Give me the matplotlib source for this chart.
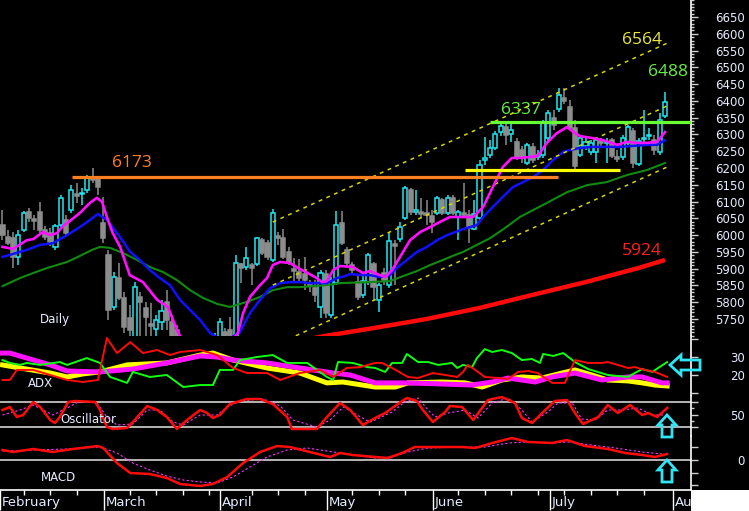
import numpy as np
import matplotlib
matplotlib.use("Agg")
import matplotlib.pyplot as plt
from matplotlib.patches import Polygon, Rectangle

W, H = 749, 511

# ============================================
# 1. DAILY CANDLES
# ============================================
opens = [6030, 5994, 5991, 5935, 6015, 6069, 6048, 6069, 6015, 6006,
         5965, 6030, 6045, 6075, 6123, 6123, 6135, 6173, 6167, 6036,
         5941, 5786, 5872, 5813, 5753, 5687, 5816, 5783, 5735, 5720,
         5741, 5801, 5741, 5717, 5673, 5634, 5652, 5613, 5592, 5628,
         5613, 5673, 5711, 5717, 5687, 5914, 5905, 5911, 5914, 5985,
         5976, 5926, 5997, 5991, 5950, 5899, 5890, 5884, 5857, 5842,
         5786, 5884, 5762, 5857, 6036, 5956, 5911, 5860, 5822, 5860,
         5914, 5807, 5887, 5851, 5973, 5988, 6051, 6135, 6069, 6069,
         6066, 6057, 6066, 6105, 6066, 6111, 6054, 6066, 6060, 6018,
         6051, 6224, 6239, 6260, 6307, 6322, 6301, 6278, 6254, 6215,
         6263, 6233, 6239, 6290, 6349, 6376, 6409, 6382, 6319, 6239,
         6266, 6248, 6248, 6281, 6275, 6284, 6233, 6233, 6275, 6310,
         6212, 6287, 6295, 6284, 6248, 6355]
highs = [6075, 6015, 6009, 6015, 6072, 6081, 6060, 6099, 6027, 6021,
         6033, 6120, 6060, 6149, 6155, 6141, 6179, 6200, 6176, 6114,
         5956, 5890, 5917, 5831, 5792, 5860, 5831, 5801, 5798, 5762,
         5807, 5836, 5762, 5732, 5693, 5673, 5673, 5634, 5643, 5652,
         5708, 5753, 5723, 5756, 5941, 5917, 5965, 5917, 5994, 5991,
         5985, 6078, 6009, 6018, 5965, 5932, 5929, 5935, 5866, 5866,
         5896, 5896, 5875, 6072, 6072, 5965, 5920, 5881, 5881, 5947,
         5920, 5857, 5902, 6009, 5985, 6039, 6146, 6141, 6135, 6111,
         6105, 6075, 6117, 6111, 6120, 6120, 6075, 6155, 6075, 6105,
         6224, 6292, 6283, 6310, 6337, 6331, 6331, 6290, 6266, 6275,
         6275, 6254, 6343, 6373, 6373, 6439, 6439, 6403, 6343, 6298,
         6290, 6283, 6290, 6290, 6290, 6290, 6254, 6298, 6328, 6319,
         6290, 6373, 6319, 6298, 6364, 6427]
lows = [5985, 5971, 5902, 5911, 6009, 6039, 6015, 6006, 5985, 5968,
        5956, 6021, 6000, 6066, 6096, 6090, 6126, 6155, 6120, 5976,
        5747, 5777, 5807, 5708, 5673, 5673, 5695, 5695, 5695, 5695,
        5717, 5717, 5658, 5643, 5613, 5622, 5583, 5568, 5574, 5592,
        5598, 5658, 5673, 5673, 5673, 5857, 5896, 5851, 5908, 5941,
        5926, 5920, 5971, 5929, 5911, 5860, 5860, 5836, 5831, 5801,
        5753, 5753, 5753, 5851, 5971, 5908, 5887, 5807, 5813, 5851,
        5807, 5771, 5851, 5842, 5851, 5979, 6045, 6060, 6060, 6051,
        6030, 6006, 6060, 6060, 6060, 6060, 5985, 6054, 5976, 6015,
        6039, 6209, 6230, 6254, 6295, 6269, 6278, 6224, 6215, 6209,
        6215, 6224, 6230, 6278, 6313, 6367, 6391, 6313, 6188, 6233,
        6254, 6239, 6215, 6260, 6215, 6230, 6218, 6224, 6269, 6200,
        6206, 6278, 6284, 6239, 6239, 6349]
closes = [6000, 5976, 5935, 6000, 6066, 6051, 6042, 6015, 5994, 5979,
          6027, 6111, 6006, 6135, 6117, 6126, 6173, 6164, 6144, 5991,
          5777, 5875, 5813, 5726, 5717, 5845, 5801, 5756, 5729, 5747,
          5774, 5747, 5673, 5658, 5628, 5658, 5598, 5583, 5628, 5604,
          5687, 5741, 5687, 5693, 5917, 5902, 5932, 5902, 5991, 5947,
          5935, 6066, 5991, 5935, 5920, 5893, 5872, 5866, 5848, 5822,
          5887, 5768, 5866, 6030, 5976, 5917, 5896, 5816, 5863, 5941,
          5845, 5851, 5866, 5982, 5968, 6024, 6141, 6069, 6075, 6063,
          6060, 6039, 6111, 6066, 6111, 6066, 6069, 6060, 6021, 6063,
          6209, 6230, 6260, 6301, 6325, 6298, 6313, 6233, 6230, 6269,
          6224, 6239, 6334, 6364, 6328, 6418, 6400, 6319, 6206, 6290,
          6278, 6275, 6284, 6275, 6278, 6236, 6227, 6290, 6322, 6215,
          6281, 6290, 6298, 6254, 6343, 6397]

# moving averages (bar, price)
ma_magenta = [(0, 5965), (2, 5959), (4.6, 5985), (5.8, 5988), (7.6, 6009), (9, 6000), (10.3, 6006),
              (11.4, 6027), (12.7, 6042), (14.6, 6066), (16.5, 6096), (17.8, 6111), (18.8, 6099),
              (19.7, 6054), (20.8, 6006), (22.2, 5965), (24, 5881), (26.5, 5860), (29.2, 5807),
              (31.2, 5786), (33.1, 5711), (35, 5660), (37, 5630), (39, 5620), (41, 5640), (43, 5680),
              (44.4, 5708), (45.4, 5768), (46.7, 5816), (48.6, 5851), (49.9, 5872), (51, 5911),
              (52.4, 5920), (54.2, 5917), (55.8, 5902), (57.6, 5887), (59.3, 5872), (60.3, 5860),
              (61.2, 5863), (62.4, 5896), (63.7, 5908), (66.1, 5905), (68, 5887), (69.3, 5893),
              (70.7, 5884), (72.2, 5875), (73.5, 5896), (75, 5935), (76.9, 5985), (78.8, 6009),
              (80.7, 6024), (82.5, 6039), (84.4, 6054), (86.3, 6054), (88.8, 6054), (90.7, 6084),
              (92.5, 6143), (94.4, 6203), (96.1, 6230), (97.6, 6230), (99.5, 6233), (101, 6236),
              (102.7, 6275), (104.6, 6304), (106.5, 6322), (108, 6304), (109, 6295), (111.4, 6289),
              (113.3, 6283), (116, 6269), (117.8, 6278), (119.7, 6275), (121.6, 6275), (123.5, 6278),
              (125, 6307)]
ma_blue = [(0, 5935), (2, 5944), (4.6, 5956), (7.1, 5971), (9.5, 5976), (12.2, 6000), (14.6, 6024),
           (16.5, 6045), (18, 6063), (19.7, 6045), (21.2, 6015), (22.2, 5994), (24.1, 5950),
           (25.9, 5926), (27.8, 5896), (29.7, 5872), (31.6, 5851), (33.5, 5807), (35.4, 5777),
           (37.3, 5747), (39.2, 5708), (41, 5690), (42.5, 5688), (44.8, 5711), (46.7, 5768),
           (48.6, 5807), (50.5, 5842), (52.4, 5857), (54.2, 5860), (56.1, 5860), (58, 5857),
           (59.9, 5857), (61.2, 5857), (63.1, 5872), (64.6, 5878), (65.6, 5884), (67.5, 5881),
           (69.3, 5881), (71.2, 5875), (73.1, 5881), (74.4, 5902), (76.3, 5926), (78.2, 5950),
           (80.1, 5965), (82, 5985), (83.9, 6000), (85.4, 6009), (86.9, 6018), (89.5, 6030),
           (90.7, 6054), (92.5, 6084), (94.4, 6114), (96.3, 6143), (98.2, 6158), (100.1, 6173),
           (102, 6194), (103.9, 6224), (105.8, 6248), (107.1, 6254), (109, 6260), (111.4, 6263),
           (114, 6263), (116.5, 6263), (119, 6266), (121.6, 6269), (123.5, 6269), (125, 6283)]
ma_green = [(0, 5848), (3.3, 5872), (5.8, 5887), (8.4, 5902), (12.2, 5920), (14.6, 5938), (16.9, 5956),
            (18.4, 5965), (20.3, 5962), (22.7, 5947), (25.4, 5926), (27.8, 5905), (30.3, 5890),
            (32.9, 5866), (35.4, 5836), (37.8, 5813), (40.5, 5795), (42.9, 5786), (46.1, 5801),
            (48.6, 5816), (51, 5836), (53.7, 5845), (56.1, 5845), (58.6, 5848), (61.2, 5851),
            (63.7, 5857), (69.3, 5860), (73.1, 5863), (75.6, 5878), (78.2, 5893), (80.7, 5911),
            (83.1, 5926), (85.4, 5941), (86.9, 5950), (92, 5991), (94.8, 6021), (97.6, 6054),
            (102.7, 6096), (106.5, 6128), (110.3, 6149), (114, 6158), (117.8, 6179), (121.6, 6194),
            (125, 6215)]
ma_red = [(56, 5685), (61, 5700), (70, 5723), (80, 5750), (90, 5783), (100, 5822), (110, 5860),
          (120, 5902), (125, 5926)]

# horizontal levels (price, first bar, last bar)
level_orange = (6173, 13.1, 104.8)
level_yellow = (6194, 87.3, 116.5)
level_green = (6337, 92, 129.9)

# trend channel (bar, price) end points
chan_upper = [(51, 6039), (125.4, 6572)]
chan_mid = [(51, 5851), (125.4, 6385)]
chan_lower = [(51, 5669), (125.4, 6203)]

# ============================================
# 2. INDICATORS (bar, value)
# ============================================
adx_magenta = [(0, 32.2), (1.4, 32.2), (4.6, 29.4), (9, 25.6), (12.2, 22.2), (18.4, 21.7), (24.6, 23.3),
               (31, 26.7), (37.3, 30.6), (40.5, 30), (43.5, 28.3), (49.9, 26.7), (56.1, 23.9),
               (62.4, 21.1), (65.6, 20), (70.3, 15.6), (76.5, 15.6), (82.9, 15), (88.6, 14.4),
               (92.4, 16.1), (95.4, 18.3), (100.5, 16.1), (103.7, 18.9), (108, 21.1), (113.1, 17.2),
               (118, 18.9), (120.7, 18.9), (124.4, 15.6), (125.4, 15.6)]
adx_yellow = [(0, 25.6), (3.3, 23.9), (9, 21.1), (12.2, 18.9), (15.2, 20.6), (18.4, 21.7), (23.5, 25.6),
              (31, 26.7), (37.3, 31.1), (39.7, 32.2), (43.5, 28.3), (49.9, 23.9), (56.1, 21.1),
              (61.2, 15.6), (64.2, 16.1), (70.3, 13.3), (74.1, 13.3), (76.5, 15.6), (82.9, 16.1),
              (87.3, 15.6), (90.5, 13.3), (94.2, 17.2), (98, 18.9), (101.8, 18.3), (105.6, 21.1),
              (108, 22.8), (111.2, 20), (114.2, 17.2), (118, 16.7), (120.7, 15.6), (123.1, 14.4),
              (125.4, 13.9)]
plus_di = [(0, 28.3), (1.4, 26.7), (3.3, 25.6), (4.6, 26.7), (7.1, 25.6), (10.8, 27.2), (12.2, 25.6),
           (15.9, 29.4), (18.4, 26.7), (20.3, 18.9), (23.5, 15.6), (24.6, 21.7), (27.8, 18.9), (31, 20),
           (34.1, 13.3), (37.3, 14.4), (39.7, 14.4), (41, 22.8), (43.5, 22.8), (44.8, 28.3), (48, 30),
           (51, 31.1), (53.7, 26.7), (57.5, 26.7), (61.2, 18.9), (62.4, 17.2), (63.3, 27.2),
           (66.1, 26.7), (68.8, 24.4), (70.3, 23.9), (72.2, 21.7), (73.5, 26.7), (75.4, 26.7),
           (76.3, 31.7), (78.4, 27.2), (80.3, 27.2), (82.2, 25.6), (84.8, 26.7), (85.8, 23.9),
           (86.9, 25.6), (88.6, 24.4), (89.5, 29.4), (91, 34.4), (92.4, 32.8), (94.2, 33.9),
           (96.1, 32.2), (98, 28.3), (99.9, 28.9), (101.4, 26.7), (102, 31.7), (103.9, 30.6),
           (105.8, 32.2), (108, 27.2), (110.5, 23.3), (114.2, 20), (118, 18.9), (119.3, 21.1),
           (120.7, 23.3), (122.6, 21.7), (123.7, 23.9), (125.4, 27.2)]
minus_di = [(0, 17.2), (1.4, 17.2), (2.7, 22.8), (5.8, 22.8), (9, 20), (12.2, 17.2), (15.2, 16.1),
            (18, 17.2), (19.7, 40.6), (21.6, 32.2), (24.1, 38.3), (26.5, 32.2), (29.2, 33.9),
            (31.6, 31.1), (33.5, 32.8), (37.3, 33.9), (40.5, 31.1), (43.5, 23.9), (46.1, 21.1),
            (49.9, 21.1), (52.4, 17.2), (56.1, 21.1), (59.9, 22.8), (62.4, 18.9), (65, 23.9),
            (67.5, 24.4), (70.3, 26.7), (71.6, 26.7), (73.5, 23.9), (76.5, 18.9), (78.4, 18.3),
            (81.2, 21.1), (83.5, 20), (85.8, 18.9), (86.9, 21.7), (87.8, 25.6), (89.2, 22.8),
            (91, 18.9), (93.5, 18.3), (95.4, 17.8), (97.3, 21.7), (99.2, 22.2), (101, 21.1),
            (103.7, 15.6), (106.1, 15.6), (108, 28.3), (110.5, 26.7), (113.1, 26.7), (114.2, 27.2),
            (116.1, 25.6), (118, 23.9), (119.3, 24.4), (121.2, 22.8), (123.1, 21.7), (125.4, 18.9)]

osc_line = [(0, 57.2), (1.4, 62), (2.7, 46), (3.9, 49.2), (5.8, 70), (7.1, 62), (9, 41.2), (9.9, 36.4),
            (10.8, 46), (12.4, 70), (13.7, 71.6), (17.5, 70), (18.4, 57.2), (19.7, 30), (20.8, 26.8),
            (23.5, 28.4), (24.6, 38), (27.3, 63.6), (29.2, 57.2), (31, 46), (32.9, 26.8), (34.8, 41.2),
            (37.3, 57.2), (38.6, 52.4), (39.7, 44.4), (41, 49.2), (42.9, 66.8), (46.1, 74.8),
            (48.6, 74.8), (51, 66.8), (53.7, 46), (54.6, 26.8), (56.1, 26.8), (59.3, 26.8), (61.2, 46),
            (63.7, 68.4), (65.6, 57.2), (68, 33.2), (70.3, 44.4), (72.2, 52.4), (75.4, 71.6),
            (76.3, 76.4), (78.2, 71.6), (79.3, 57.2), (81.2, 38), (83.5, 54), (84.4, 63.6), (86.7, 62),
            (88.8, 41.2), (91.6, 73.2), (94.2, 78), (96.7, 68.4), (98, 44.4), (99.9, 36.4),
            (102.4, 57.2), (104.2, 71.6), (106.5, 73.2), (108, 52.4), (109.5, 34.8), (112.4, 46),
            (114.2, 65.2), (116.1, 52.4), (118.4, 65.2), (120.7, 49.2), (121.8, 52.4), (123.5, 46),
            (125.4, 60.4)]
osc_signal = [(0, 49.2), (3.3, 57.2), (5.8, 65.2), (9.5, 49.2), (12.2, 60.4), (14.6, 71.6), (17.8, 68.4),
              (19.7, 46), (21.6, 33.2), (24.6, 34.8), (27.3, 57.2), (29.7, 57.2), (32.2, 38),
              (34.1, 33.2), (37.3, 49.2), (40.5, 49.2), (42.4, 62), (44.8, 71.6), (49.2, 74.8),
              (52.4, 63.6), (54.8, 41.2), (59.3, 30), (61.8, 41.2), (64.3, 62), (66.9, 49.2),
              (69.3, 38), (70.3, 41.2), (73.5, 54), (75.9, 70), (78.4, 76.4), (80.3, 57.2), (81.6, 46),
              (84.1, 52.4), (87.3, 57.2), (89.7, 44.4), (92.4, 68.4), (95.4, 76.4), (98, 57.2),
              (99.9, 38), (102.9, 54), (104.8, 68.4), (107.5, 68.4), (109.3, 42.8), (111.8, 41.2),
              (114.2, 57.2), (116.9, 57.2), (119.9, 60.4), (122.6, 49.2), (125, 49.2)]

macd_line = [(0, 20), (2, 16), (5.8, 22), (9.5, 16), (13.3, 22), (18, 28), (19, 24), (21.6, -6),
             (24.1, -26), (27.8, -28), (31, -36), (33.5, -48), (37.3, -52), (39.7, -48), (42.4, -34),
             (45.4, -6), (48.6, 16), (51.8, 28), (54.2, 26), (58, 16), (61.8, 6), (63.7, 14),
             (66.1, 10), (70.3, 6), (72.7, 4), (75.4, 14), (77.8, 26), (82.9, 26), (86.7, 26),
             (89.2, 24), (92.4, 34), (96.1, 44), (99.2, 36), (103.7, 34), (106.5, 40), (109.9, 28),
             (114.2, 22), (117.5, 14), (120.7, 10), (123.1, 6), (125.4, 12)]
macd_signal = [(0, 18), (5.8, 20), (12.2, 22), (18.4, 26), (21.6, 14), (24.6, -6), (27.8, -20),
               (31, -32), (34.1, -40), (37.3, -44), (40.5, -46), (43.5, -34), (46.7, -14), (49.9, 6),
               (53.7, 20), (57.5, 24), (62.4, 16), (70.3, 4), (73.5, 6), (76.5, 16), (80.3, 24),
               (86.7, 26), (91, 26), (95.4, 34), (98.6, 36), (103.7, 34), (106.7, 36), (111.2, 30),
               (115.6, 24), (120.7, 16), (124.4, 12)]

# x axis
months = ["February", "March", "April", "May", "June", "July", "August"]
month_start = [-0.47, 19.15, 41, 61.2, 81.2, 103.3, 126.5]
week_ticks = [4, 9, 14, 24, 29, 34, 39, 47, 52, 57, 66, 71, 76, 86, 91, 96, 101, 106, 111, 116, 121]

# ============================================
# 3. PLOT
# ============================================
CYAN = "#22e6f0"
GREY = "#8c8c8c"
TXT = "#e6ecff"
X0, X1 = -0.47, 129.9

fig = plt.figure(figsize=(W / 100, H / 100), dpi=100, facecolor="black")


def fpos(x, y):
    return x / W, 1 - y / H


def panel(top, bottom):
    a = fig.add_axes([0, 1 - bottom / H, 691 / W, (bottom - top) / H])
    a.set_facecolor("black")
    for s in a.spines.values():
        s.set_visible(False)
    a.spines["right"].set_visible(True)
    a.spines["right"].set_color("white")
    a.spines["right"].set_linewidth(1.2)
    a.set_xlim(X0, X1)
    a.tick_params(axis="x", which="both", bottom=False, labelbottom=False)
    a.yaxis.tick_right()
    a.tick_params(axis="y", which="both", colors="#d0d0d0", labelcolor=TXT, labelsize=8.5)
    return a


def right_labels(a, ticks, labels, minor=None, length=5):
    a.set_yticks(ticks)
    a.set_yticklabels(labels)
    if minor is not None:
        a.set_yticks(minor, minor=True)
    a.tick_params(axis="y", which="major", length=length, width=1, pad=38.9 - length)
    a.tick_params(axis="y", which="minor", length=2, width=1)
    plt.setp(a.get_yticklabels(), ha="right")


def xy(pairs):
    arr = np.array(pairs, dtype=float)
    return arr[:, 0], arr[:, 1]


ax = panel(0, 336)
ax_adx = panel(336, 396)
ax_osc = panel(396, 436)
ax_macd = panel(436, 490)

# ---- candles ----
o, h, l, c = (np.array(v, dtype=float) for v in (opens, highs, lows, closes))
idx = np.arange(len(c))
up = c >= o
for mask, col, face in [(up, CYAN, "black"), (~up, GREY, GREY)]:
    ax.vlines(idx[mask], l[mask], h[mask], color=col, lw=1.1, zorder=2)
    lo = np.minimum(o, c)[mask]
    hi = np.maximum(o, c)[mask]
    ax.bar(idx[mask], np.maximum(hi - lo, 1.5), bottom=lo, width=0.78,
           facecolor=face, edgecolor=col, lw=1.1, zorder=3)

# ---- moving averages ----
ax.plot(*xy(ma_red), color="#ff0a0a", lw=3.2, zorder=4, solid_capstyle="butt")
ax.plot(*xy(ma_green), color="#118a11", lw=1.5, zorder=4)
ax.plot(*xy(ma_blue), color="#1010ff", lw=1.8, zorder=4)
ax.plot(*xy(ma_magenta), color="#ff10ff", lw=1.9, zorder=5)

# ---- channel ----
for ch in (chan_upper, chan_mid, chan_lower):
    ax.plot(*xy(ch), color="#d8d800", lw=1.1, ls=(0, (2.5, 3)), zorder=4)

# ---- levels ----
for (lvl, b0, b1), col in [(level_orange, "#ff8020"), (level_yellow, "#ffff00"), (level_green, "#66ff33")]:
    ax.hlines(lvl, b0, b1, color=col, lw=2.3, zorder=6)

ax.text(24.4, 6215, "6173", color="#ff8020", fontsize=12.5, family="Open Sans", ha="center", va="center")
ax.text(97.8, 6373, "6337", color="#66ee44", fontsize=12.5, family="Open Sans", ha="center", va="center")
ax.text(125.6, 6486, "6488", color="#66ee44", fontsize=12.5, family="Open Sans", ha="center", va="center")
ax.text(120.7, 6581, "6564", color="#e8e840", fontsize=12.5, family="Open Sans", ha="center", va="center")
ax.text(120.7, 5953, "5924", color="#ff2020", fontsize=12.5, family="Open Sans", ha="center", va="center")

ax.set_ylim(5699.4, 6700.7)
right_labels(ax, np.arange(5750, 6651, 50), [str(v) for v in range(5750, 6651, 50)],
             minor=np.arange(5700, 6701, 10), length=5)

# ---- ADX ----
ax_adx.plot(*xy(adx_yellow), color="#ffff00", lw=3.6, zorder=3)
ax_adx.plot(*xy(adx_magenta), color="#ff10ff", lw=3.6, zorder=3)
ax_adx.plot(*xy(plus_di), color="#10ff10", lw=1.4, zorder=4)
ax_adx.plot(*xy(minus_di), color="#ff0a0a", lw=1.4, zorder=4)
ax_adx.set_ylim(8.3, 41.7)
right_labels(ax_adx, [10, 20, 30, 40], ["", "20", "30", ""], length=5)

# ---- oscillator ----
for v in (70, 30):
    ax_osc.axhline(v, color="#b4b4b4", lw=1.4, zorder=1)
ax_osc.plot(*xy(osc_signal), color="#ff30ff", lw=0.8, ls=(0, (2, 2)), zorder=3)
ax_osc.plot(*xy(osc_line), color="#ff0a0a", lw=1.8, zorder=4)
ax_osc.set_ylim(15.6, 79.6)
right_labels(ax_osc, [30, 50, 70], ["", "50", ""], minor=[40, 60], length=5)

# ---- MACD ----
ax_macd.axhline(0, color="#b4b4b4", lw=1.4, zorder=1)
ax_macd.plot(*xy(macd_signal), color="#ff30ff", lw=0.8, ls=(0, (2, 2)), zorder=3)
ax_macd.plot(*xy(macd_line), color="#ff0a0a", lw=1.8, zorder=4)
ax_macd.set_ylim(-60, 48)
right_labels(ax_macd, [-50, -26, 0, 26], ["", "", "0", ""], length=5)

# x axis on the bottom panel
ax_macd.spines["bottom"].set_visible(True)
ax_macd.spines["bottom"].set_color("white")
ax_macd.spines["bottom"].set_linewidth(1.2)
ax_macd.set_xticks(month_start)
ax_macd.set_xticks(week_ticks, minor=True)
ax_macd.tick_params(axis="x", which="major", bottom=True, length=14.4, width=1, colors="white",
                    labelbottom=False)
ax_macd.tick_params(axis="x", which="minor", bottom=True, length=3.6, width=1, colors="white")
for name, b in zip(months, month_start):
    ax_macd.text(b + 0.35, -0.24, name, transform=ax_macd.get_xaxis_transform(), color=TXT,
                 fontsize=9.5, ha="left", va="center", clip_on=False)

# panel captions
fig.text(*fpos(55, 320), "Daily", color=TXT, fontsize=8.5, ha="center", va="center")
fig.text(*fpos(40, 383), "ADX", color=TXT, fontsize=8.5, ha="center", va="center")
fig.text(*fpos(88, 419), "Oscillator", color=TXT, fontsize=8.5, ha="center", va="center")
fig.text(*fpos(59, 477), "MACD", color=TXT, fontsize=8.5, ha="center", va="center")

# cyan hollow arrows
arrows = [
    [(670, 365), (681, 355), (681, 360), (700, 360), (700, 370), (681, 370), (681, 375)],
    [(667, 415), (676, 425), (672, 425), (672, 437), (662, 437), (662, 425), (658, 425)],
    [(667, 460), (676, 470), (672, 470), (672, 482), (662, 482), (662, 470), (658, 470)],
]
for pts in arrows:
    fig.add_artist(Polygon([fpos(x, y) for x, y in pts], closed=True, fill=False,
                           edgecolor="#30e4f4", lw=2, transform=fig.transFigure, zorder=8))

# white corner under the value axis
fig.add_artist(Rectangle(fpos(691, 511), (W - 691) / W, 21 / H, transform=fig.transFigure,
                         facecolor="white", edgecolor="none", zorder=10))

fig.savefig("out.png", dpi=100, facecolor="black")
